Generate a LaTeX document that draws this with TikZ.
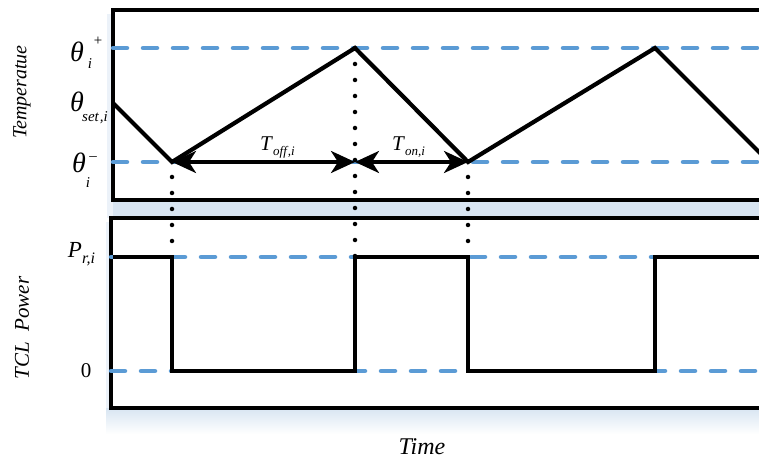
\documentclass[tikz,border=0pt]{standalone}
\usepackage{fontspec}
\setmainfont{Liberation Serif}
\usetikzlibrary{arrows.meta}
\definecolor{refblue}{RGB}{91,155,213}
\definecolor{shb}{RGB}{216,229,242}
\definecolor{shc}{RGB}{236,242,249}
\tikzset{
  framebox/.style={draw=black,line width=4.2bp,fill=white},
  wave/.style={draw=black,line width=4.2bp,line join=miter},
  refline/.style={draw=refblue,line width=4.5bp,line cap=round,dash pattern=on 14bp off 16bp},
  guide/.style={draw=black,line width=4.5bp,line cap=round,dash pattern=on 0bp off 16bp},
  span/.style={draw=black,line width=3.5bp,{Stealth[length=24bp,width=22bp,inset=7bp]}-{Stealth[length=24bp,width=22bp,inset=7bp]}},
  big/.style={inner sep=0pt,font=\itshape\fontsize{28bp}{30bp}\selectfont},
  small/.style={inner sep=0pt,font=\itshape\fontsize{15bp}{17bp}\selectfont},
  axis/.style={inner sep=0pt,font=\itshape\fontsize{20bp}{24bp}\selectfont},
}
\begin{document}
\begin{tikzpicture}[x=1bp,y=-1bp]
\useasboundingbox (0,0) rectangle (759,460);
\clip (0,0) rectangle (759,460);
% shadows
\fill[shc] (107,14) rectangle (790,218);
\fill[shb] (113,200) rectangle (790,218);
\fill[shc] (106,222) rectangle (790,410);
\shade[top color=shb,bottom color=white] (106,408) rectangle (790,434);
% frames
\path[framebox] (113,10) rectangle (800,200);
\path[framebox] (111,218) rectangle (800,408);
% coordinates
\coordinate (L1) at (113,48);  \coordinate (R1) at (790,48);
\coordinate (L2) at (113,162); \coordinate (R2) at (790,162);
\coordinate (L3) at (111,257); \coordinate (R3) at (790,257);
\coordinate (L4) at (111,371); \coordinate (R4) at (790,371);
\coordinate (T0) at (113,103);
\coordinate (TA) at (172,162);
\coordinate (TB) at (355,48);
\coordinate (TC) at (468,162);
\coordinate (TD) at (655,48);
\coordinate (TE) at (780,173);
\coordinate (TBb) at (355,162);
\coordinate (P0) at (113,257);
\coordinate (PA) at (172,257);
\coordinate (PB) at (355,257);
\coordinate (PC) at (468,257);
\coordinate (PD) at (655,257);
\coordinate (PE) at (790,257);
\coordinate (GA) at (172,177);
\coordinate (GC) at (468,177);
% reference dashed lines
\draw[refline] (L1) -- (R1);
\draw[refline] (L2) -- (R2);
\draw[refline] (L3) -- (R3);
\draw[refline] (L4) -- (R4);
% guides
\draw[guide] (GA) -- (PA);
\draw[guide] (TB) -- (PB);
\draw[guide] (GC) -- (PC);
% temperature wave
\draw[wave] (T0) -- (TA) -- (TB) -- (TC) -- (TD) -- (TE);
% power wave
\draw[wave] (P0) -- (PA) -- (172,371) -- (355,371) -- (PB) -- (PC) -- (468,371) -- (655,371) -- (PD) -- (PE);
% spans
\draw[span] (TA) -- (TBb);
\draw[span] (TBb) -- (TC);
\node[axis,font=\itshape\fontsize{21bp}{24bp}\selectfont] (toff) at (266,144) {T};
\node[small,font=\itshape\fontsize{13bp}{15bp}\selectfont,anchor=west] (toffs) at (273,152) {off\kern1pt,i};
\node[axis,font=\itshape\fontsize{21bp}{24bp}\selectfont] (ton) at (398,144) {T};
\node[small,font=\itshape\fontsize{13bp}{15bp}\selectfont,anchor=west] (tons) at (405,152) {on,i};
% y labels
\node[big] (thp) at (77,52) {θ};
\node[small] (thpi) at (90,64) {i};
\node[small] (thpp) at (98,41) {+};
\node[big] (ths) at (77,102) {θ};
\node[small,anchor=west] (thss) at (82,118) {set\kern1pt,i};
\node[big] (thm) at (79,163) {θ};
\node[small] (thmi) at (88,183) {i};
\node[small] (thmm) at (93,159) {\textendash};
\node[big,font=\itshape\fontsize{23bp}{26bp}\selectfont] (pr) at (75,250) {P};
\node[small,font=\itshape\fontsize{16bp}{18bp}\selectfont,anchor=west] (prs) at (82,259) {r,i};
\node[big,font=\fontsize{21bp}{24bp}\selectfont] (zero) at (86,371) {0};
% axis titles
\node[axis,rotate=90] (temp) at (22,92) {Temperatue};
\node[axis,rotate=90,font=\itshape\fontsize{21bp}{24bp}\selectfont] (pow) at (22,328) {TCL\hspace{0.5em}Power};
\node[axis,font=\itshape\fontsize{24bp}{28bp}\selectfont] (time) at (422,447) {Time};
\end{tikzpicture}
\end{document}
